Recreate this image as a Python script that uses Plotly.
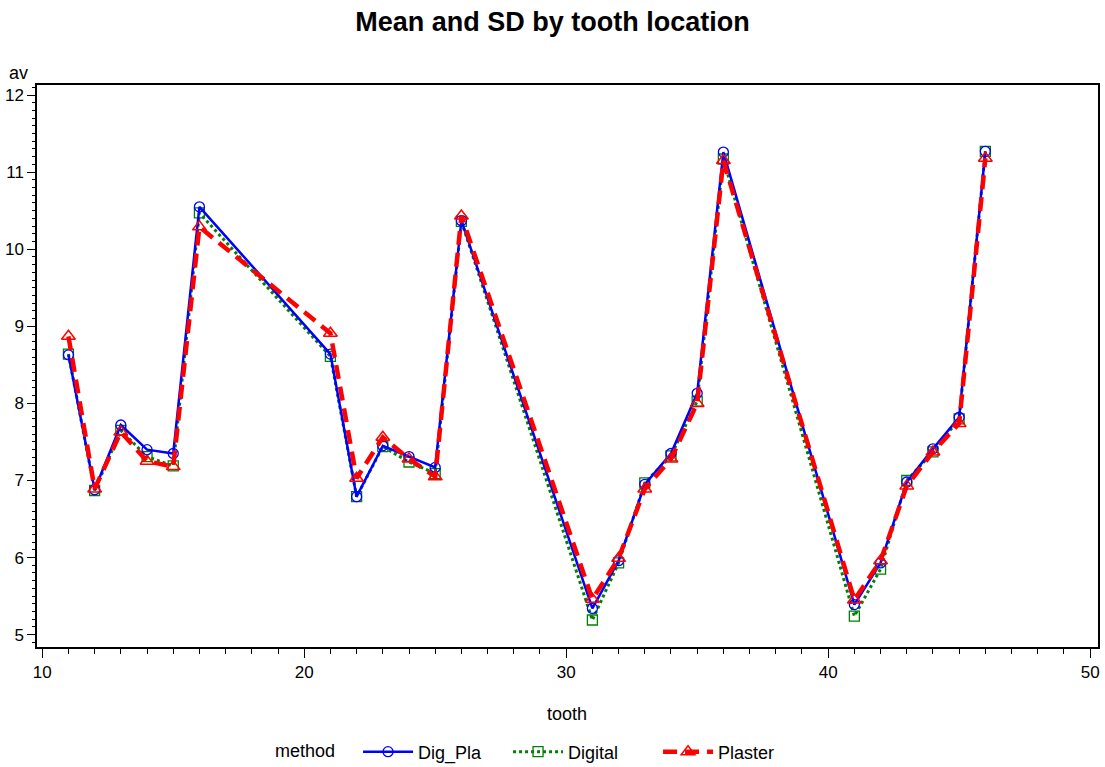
import plotly.graph_objects as go

tooth = [11, 12, 13, 14, 15, 16, 21, 22, 23, 24, 25, 26,
         31, 32, 33, 34, 35, 36, 41, 42, 43, 44, 45, 46]

dig_pla = [8.63, 6.88, 7.72, 7.40, 7.35, 10.55, 8.64, 6.79, 7.45, 7.31, 7.17, 10.37,
           5.34, 5.96, 6.95, 7.35, 8.13, 11.26, 5.39, 5.93, 6.98, 7.41, 7.82, 11.27]
digital = [8.64, 6.87, 7.65, 7.31, 7.19, 10.47, 8.61, 6.79, 7.44, 7.24, 7.09, 10.36,
           5.19, 5.93, 6.97, 7.32, 8.03, 11.17, 5.24, 5.85, 7.00, 7.37, 7.80, 11.27]
plaster = [8.87, 6.89, 7.63, 7.25, 7.18, 10.29, 8.91, 7.03, 7.56, 7.28, 7.05, 10.43,
           5.46, 5.99, 6.89, 7.28, 8.00, 11.15, 5.45, 5.96, 6.93, 7.37, 7.74, 11.18]

x_ticks = [10, 20, 30, 40, 50]
y_ticks = [5, 6, 7, 8, 9, 10, 11, 12]

FONT = "Liberation Sans, Arial, sans-serif"

fig = go.Figure()

fig.add_trace(go.Scatter(
    x=tooth, y=digital, name="Digital", mode="lines+markers", legendrank=2,
    line=dict(color="#008000", width=3, dash="dot"),
    marker=dict(symbol="square-open", size=10, color="#008000", line=dict(width=1.3)),
))
fig.add_trace(go.Scatter(
    x=tooth, y=dig_pla, name="Dig_Pla", mode="lines+markers", legendrank=1,
    line=dict(color="#0000FF", width=2.5),
    marker=dict(symbol="circle-open", size=10, color="#0000FF", line=dict(width=1.3)),
))
fig.add_trace(go.Scatter(
    x=tooth, y=plaster, name="Plaster", mode="lines+markers", legendrank=3,
    line=dict(color="#FF0000", width=4.5, dash="14px,8px"),
    marker=dict(symbol="triangle-up-open", size=12, color="#FF0000", line=dict(width=1.5)),
))

fig.update_layout(
    width=1105, height=767,
    margin=dict(l=37, r=7, t=85, b=120),
    paper_bgcolor="white", plot_bgcolor="white",
    font=dict(family=FONT, size=17, color="black"),
    title=dict(text="<b>Mean and SD by tooth location</b>", x=0.5, xanchor="center",
               y=1 - 22 / 767, yanchor="middle", yref="container",
               font=dict(family=FONT, size=27, color="black")),
    showlegend=True,
    legend=dict(orientation="h", x=(273 - 37) / 1061, xanchor="left",
                yref="container", y=1 - 752 / 767, yanchor="middle",
                title=dict(text="method   ", side="left", font=dict(size=18)),
                font=dict(family=FONT, size=18), itemwidth=50,
                entrywidth=85, bgcolor="rgba(0,0,0,0)"),
    xaxis=dict(range=[9.8, 50.3], tickvals=x_ticks, ticks="outside", ticklen=9,
               tickwidth=1.2, tickcolor="black", automargin=False,
               minor=dict(dtick=1, ticks="outside", ticklen=5, tickcolor="black", tickwidth=1),
               showline=True, linecolor="black", linewidth=1.5, mirror=True,
               showgrid=False, zeroline=False, tickfont=dict(size=17)),
    yaxis=dict(range=[4.84, 12.13], tickvals=y_ticks, ticks="outside", ticklen=8,
               tickwidth=1.2, tickcolor="black", automargin=False,
               minor=dict(dtick=0.1, ticks="outside", ticklen=3, tickcolor="black", tickwidth=1),
               showline=True, linecolor="black", linewidth=1.5, mirror=True,
               showgrid=False, zeroline=False, tickfont=dict(size=17)),
    annotations=[
        dict(text="av", xref="paper", yref="paper", x=(18 - 37) / 1061, y=(647 - 73) / 562,
             xanchor="center", yanchor="middle", showarrow=False, font=dict(size=18)),
        dict(text="tooth", xref="paper", yref="paper", x=(567 - 37) / 1061, y=(647 - 714) / 562,
             xanchor="center", yanchor="middle", showarrow=False, font=dict(size=18)),
    ],
)

fig.write_html("out.html", config={"displayModeBar": False},
               post_script="document.body.style.margin='0px';")
